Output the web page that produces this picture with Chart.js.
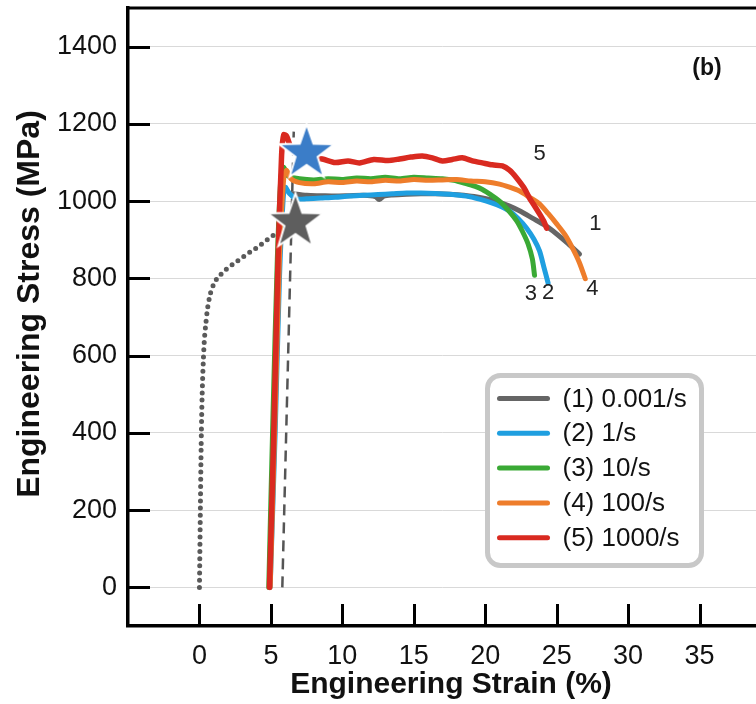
<!DOCTYPE html>
<html><head><meta charset="utf-8">
<script src="https://cdn.jsdelivr.net/npm/chart.js@4.4.1/dist/chart.umd.min.js"></script>
<style>html,body{margin:0;padding:0;background:#fff;}</style>
</head><body>
<canvas id="c" width="756" height="704" style="display:block;width:756px;height:704px"></canvas>
<script>
// ---- data (strain %, stress MPa) ----
const xTicks = [0, 5, 10, 15, 20, 25, 30, 35];
const yTicks = [0, 200, 400, 600, 800, 1000, 1200, 1400];
const seriesNames = ['(1) 0.001/s', '(2) 1/s', '(3) 10/s', '(4) 100/s', '(5) 1000/s'];
const xTitle = 'Engineering Strain (%)';
const yTitle = 'Engineering Stress (MPa)';

const s1x = [6.4, 7.5, 8.5, 9.5, 10.5, 11.5, 12.3, 12.6, 12.9, 13.5, 14.5, 15.5, 16.5, 17.5, 18.5, 19.8, 20.8, 21.7, 22.5, 23.3, 24.2, 25.0, 25.8, 26.6];
const s1y = [1020, 1015, 1014, 1013, 1014, 1015, 1012, 1004, 1013, 1016, 1018, 1019, 1019, 1018, 1015, 1008, 999, 987, 973, 956, 937, 915, 890, 863];

const s1DotX = [0, 0.14, 0.28, 0.49, 0.7, 1.0, 1.54, 2.1, 2.66, 3.3, 3.99, 4.5, 5.11, 5.6, 6.16];
const s1DotY = [0, 413, 594, 698, 750, 785, 812, 830, 845, 862, 879, 893, 910, 918, 925];

const s1DashX = [5.8, 6.6];
const s1DashY = [0, 1180];

const s2x = [4.95, 5.3, 5.6, 5.85, 6.0, 6.3, 6.8, 7.5, 8.5, 9.5, 10.5, 11.5, 12.5, 13.5, 14.5, 15.5, 16.5, 17.5, 18.7, 19.6, 20.5, 21.1, 21.7, 22.3, 22.9, 23.4, 23.8, 24.1, 24.4];
const s2y = [0, 400, 800, 1000, 1036, 1020, 1006, 1006, 1008, 1010, 1013, 1015, 1017, 1019, 1021, 1021, 1020, 1018, 1013, 1005, 995, 986, 974, 955, 930, 902, 871, 830, 788];

const s3x = [4.85, 5.15, 5.45, 5.7, 5.9, 6.2, 7.0, 8.0, 9.0, 10.0, 11.0, 12.0, 13.0, 14.0, 15.0, 16.0, 17.0, 17.8, 18.6, 19.3, 19.8, 20.4, 21.0, 21.6, 22.2, 22.6, 23.0, 23.3, 23.45];
const s3y = [0, 450, 850, 1060, 1088, 1065, 1058, 1055, 1058, 1056, 1060, 1058, 1062, 1058, 1062, 1060, 1058, 1054, 1046, 1038, 1030, 1016, 1000, 977, 949, 922, 889, 850, 808];

const s4x = [4.95, 5.3, 5.6, 5.9, 6.1, 6.4, 7.0, 8.0, 9.0, 10.0, 11.0, 12.0, 13.0, 14.0, 15.0, 16.0, 17.0, 18.0, 19.0, 20.0, 21.0, 21.7, 22.4, 23.1, 23.8, 24.4, 25.0, 25.6, 26.1, 26.6, 27.0];
const s4y = [0, 450, 850, 1060, 1080, 1058, 1048, 1045, 1050, 1048, 1052, 1050, 1054, 1052, 1056, 1054, 1055, 1056, 1052, 1050, 1044, 1036, 1026, 1010, 993, 968, 941, 912, 879, 840, 799];

const s5x = [4.9, 5.2, 5.5, 5.75, 5.9, 6.1, 6.4, 7.0, 7.8, 8.6, 9.5, 10.4, 11.2, 12.2, 13.2, 14.0, 14.8, 15.6, 16.3, 17.0, 17.7, 18.4, 19.1, 19.8, 20.5, 21.2, 21.7, 22.2, 22.7, 23.1, 23.5, 23.8, 24.1, 24.3];
const s5y = [0, 400, 850, 1120, 1172, 1168, 1140, 1120, 1112, 1109, 1100, 1104, 1099, 1108, 1105, 1109, 1114, 1117, 1112, 1104, 1108, 1112, 1104, 1099, 1094, 1091, 1080, 1060, 1035, 1008, 985, 967, 948, 930];

const starBlueX = [7.5], starBlueY = [1124];
const starGrayX = [6.72], starGrayY = [945];

const curveLabelText = ['1', '2', '3', '4', '5'];
const curveLabelX = [27.7, 24.4, 23.2, 27.5, 23.8];
const curveLabelY = [940, 762, 760, 773, 1122];

// ---- styles ----
const colors = ['#656565', '#1f9fe0', '#3aa935', '#ee7d2b', '#d92a20'];
const FONT = '"Liberation Sans", Arial, Helvetica, sans-serif';
const pts = (xs, ys) => xs.map((v, i) => ({x: v, y: ys[i]}));

function makeStar(color, R) {
  const pad = 3, size = Math.ceil(2 * R + 2 * pad);
  const c = document.createElement('canvas');
  c.width = size; c.height = size;
  const g = c.getContext('2d');
  const cx = size / 2, cy = size / 2, r = R * 0.40;
  g.beginPath();
  for (let i = 0; i < 10; i++) {
    const a = -Math.PI / 2 + i * Math.PI / 5, rad = i % 2 === 0 ? R : r;
    g.lineTo(cx + rad * Math.cos(a), cy + rad * Math.sin(a));
  }
  g.closePath();
  g.fillStyle = color; g.fill();
  g.lineWidth = 2; g.strokeStyle = '#fff'; g.lineJoin = 'miter'; g.stroke();
  return c;
}

const lineDs = (label, xs, ys, color, w) => ({
  label, data: pts(xs, ys), borderColor: color, backgroundColor: color,
  borderWidth: w, pointRadius: 0, tension: 0.25, borderCapStyle: 'round', borderJoinStyle: 'round', fill: false
});

const noPad = s => { s.paddingLeft = 0; s.paddingRight = 0; s.paddingTop = 0; s.paddingBottom = 0; };

const extras = {
  id: 'extras',
  afterDatasetsDraw(chart) {
    const {ctx, chartArea: a, scales: {x, y}} = chart;
    ctx.save();
    ctx.strokeStyle = '#000';
    ctx.lineWidth = 3;
    yTicks.forEach(v => { const p = Math.round(y.getPixelForValue(v)) + 0.5; ctx.beginPath(); ctx.moveTo(a.left, p); ctx.lineTo(a.left + 22, p); ctx.stroke(); });
    xTicks.forEach(v => { const p = Math.round(x.getPixelForValue(v)) + 0.5; ctx.beginPath(); ctx.moveTo(p, a.bottom); ctx.lineTo(p, a.bottom - 22); ctx.stroke(); });
    ctx.beginPath(); ctx.moveTo(a.left - 1.5, a.top); ctx.lineTo(a.right, a.top); ctx.stroke();
    // curve labels
    ctx.fillStyle = '#222';
    ctx.font = '22px ' + FONT;
    ctx.textAlign = 'center'; ctx.textBaseline = 'middle';
    curveLabelText.forEach((t, i) => ctx.fillText(t, x.getPixelForValue(curveLabelX[i]), y.getPixelForValue(curveLabelY[i])));
    // panel label
    ctx.fillStyle = '#111';
    ctx.font = 'bold 23px ' + FONT;
    ctx.fillText('(b)', a.left + 579, a.top + 61);
    ctx.restore();
  },
  afterDraw(chart) {
    const {ctx, chartArea: a} = chart;
    ctx.save();
    // axis titles
    ctx.fillStyle = '#111';
    ctx.textAlign = 'center'; ctx.textBaseline = 'middle';
    ctx.font = 'bold 30px ' + FONT;
    ctx.fillText(xTitle, a.left + 323, a.bottom + 59);
    ctx.save();
    ctx.translate(30, a.top + 296);
    ctx.rotate(-Math.PI / 2);
    ctx.font = 'bold 32px ' + FONT;
    ctx.fillText(yTitle, 0, 0);
    ctx.restore();
    // legend box
    const bx = a.left + 359.5, by = a.top + 367.5, bw = 214, bh = 190;
    ctx.beginPath();
    ctx.roundRect(bx, by, bw, bh, 13);
    ctx.fillStyle = '#fff'; ctx.fill();
    ctx.lineWidth = 5; ctx.strokeStyle = '#c8c8c8'; ctx.stroke();
    ctx.font = '26px ' + FONT;
    ctx.textAlign = 'left'; ctx.textBaseline = 'middle';
    seriesNames.forEach((n, i) => {
      const yy = by + 23 + i * 34.8;
      ctx.beginPath(); ctx.lineCap = 'round'; ctx.lineWidth = 5; ctx.strokeStyle = colors[i];
      ctx.moveTo(bx + 12, yy); ctx.lineTo(bx + 60, yy); ctx.stroke();
      ctx.fillStyle = '#111';
      ctx.fillText(n, bx + 75, yy + 1);
    });
    ctx.restore();
  }
};

new Chart(document.getElementById('c'), {
  type: 'line',
  data: {
    datasets: [
      {label: 'starBlue', data: pts(starBlueX, starBlueY), pointStyle: makeStar('#3b7dc8', 29), pointRadius: 29, showLine: false},
      {label: 'starGray', data: pts(starGrayX, starGrayY), pointStyle: makeStar('#5e5e5e', 29), pointRadius: 29, showLine: false},
      lineDs(seriesNames[4], s5x, s5y, colors[4], 5.5),
      lineDs(seriesNames[3], s4x, s4y, colors[3], 5),
      lineDs(seriesNames[2], s3x, s3y, colors[2], 5),
      lineDs(seriesNames[1], s2x, s2y, colors[1], 5),
      lineDs(seriesNames[0], s1x, s1y, colors[0], 5),
      {label: 'dash', data: pts(s1DashX, s1DashY), borderColor: '#555', borderWidth: 2.5, borderDash: [11, 7], pointRadius: 0, tension: 0},
      {label: 'dot', data: pts(s1DotX, s1DotY), borderColor: '#5a5a5a', borderWidth: 5, borderDash: [0, 7.2], borderCapStyle: 'round', pointRadius: 0, cubicInterpolationMode: 'monotone'}
    ]
  },
  options: {
    responsive: false, devicePixelRatio: 1, animation: false,
    layout: {autoPadding: false, padding: {top: 8, right: 0, left: 0, bottom: 0}},
    plugins: {legend: {display: false}, tooltip: {enabled: false}},
    scales: {
      x: {
        type: 'linear', min: -5, max: 38.95,
        afterBuildTicks: s => { s.ticks = xTicks.map(v => ({value: v})); },
        afterFit: s => { s.height = 78; noPad(s); },
        grid: {display: false, drawTicks: false},
        border: {display: true, color: '#000', width: 3.5},
        ticks: {color: '#111', font: {family: FONT, size: 27}, padding: 14, maxRotation: 0, callback: v => String(v)},
        title: {display: false}
      },
      y: {
        type: 'linear', min: -100, max: 1500,
        afterBuildTicks: s => { s.ticks = yTicks.map(v => ({value: v})); },
        afterFit: s => { s.width = 128; noPad(s); },
        grid: {display: true, color: '#d9d9d9', lineWidth: 1, drawTicks: false},
        border: {display: true, color: '#000', width: 3.5},
        ticks: {color: '#111', font: {family: FONT, size: 27}, padding: 11, callback: v => String(v)},
        title: {display: false}
      }
    }
  },
  plugins: [extras]
});
</script>
</body></html>
